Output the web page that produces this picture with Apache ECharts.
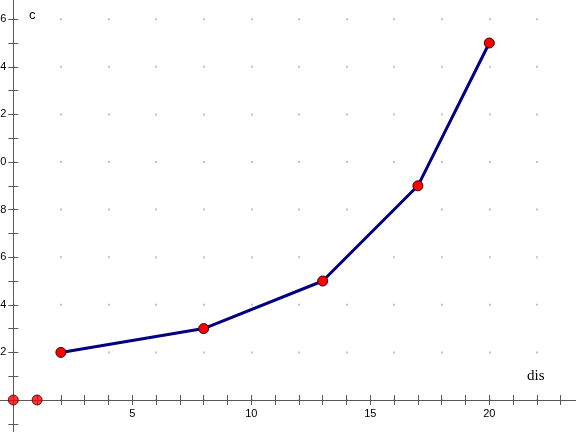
<!DOCTYPE html>
<html>
<head>
<meta charset="utf-8">
<script src="https://cdn.jsdelivr.net/npm/echarts@6/dist/echarts.min.js"></script>
<style>html,body{margin:0;padding:0;background:#fff;}#c{width:576px;height:432px;}</style>
</head>
<body>
<div id="c"></div>
<script>
// Data
var lineX = [2, 8, 13, 17, 20];
var lineY = [2, 3, 5, 9, 15];
var looseX = [0, 1];
var looseY = [0, 0];
var xLabelValues = [5, 10, 15, 20];
var yLabelValues = [2, 4, 6, 8, 10, 12, 14, 16];
var xName = 'dis';
var yName = 'c';

// Layout (pixels per unit and origin position)
var unit = 23.8;
var originX = 13.3;
var originY = 400;
var xMin = -2, xMax = 24, yMin = -2, yMax = 18;

var lineData = lineX.map(function (x, i) { return [x, lineY[i]]; });
var looseData = looseX.map(function (x, i) { return [x, looseY[i]]; });

var axisColor = '#5a5a5a';

function baseAxis(min, max, extra) {
  return Object.assign({
    type: 'value', min: min, max: max, interval: 1,
    axisLine: { show: true, onZero: false, lineStyle: { color: axisColor, width: 1 } },
    axisTick: { show: true, inside: false, length: 5, lineStyle: { color: axisColor, width: 1 } },
    axisLabel: { show: false },
    splitLine: { show: false }
  }, extra);
}

var chart = echarts.init(document.getElementById('c'), null, { renderer: 'canvas' });
chart.setOption({
  animation: false,
  backgroundColor: '#fff',
  grid: {
    left: originX - (0 - xMin) * unit,
    top: originY - yMax * unit,
    width: (xMax - xMin) * unit,
    height: (yMax - yMin) * unit,
    outerBoundsMode: 'none',
    containLabel: false
  },
  xAxis: [
    baseAxis(xMin, xMax, {
      position: 'bottom', offset: -(0 - yMin) * unit,
      axisLabel: {
        show: true, margin: 8, customValues: xLabelValues,
        fontFamily: 'Liberation Sans', fontSize: 11, color: '#000'
      }
    }),
    baseAxis(xMin, xMax, { position: 'top', offset: -(yMax - 0) * unit }),
    {
      type: 'value', min: xMin, max: xMax, interval: 2,
      axisLine: { show: false }, axisTick: { show: false }, axisLabel: { show: false },
      splitLine: { show: true, lineStyle: { color: '#c4c4c4', width: 2, type: [2, 2 * unit - 2], dashOffset: 1 } }
    }
  ],
  yAxis: [
    baseAxis(yMin, yMax, {
      position: 'left', offset: -(0 - xMin) * unit,
      axisLabel: {
        show: true, margin: 7, customValues: yLabelValues,
        fontFamily: 'Liberation Sans', fontSize: 11, color: '#000'
      }
    }),
    baseAxis(yMin, yMax, { position: 'right', offset: -(xMax - 0) * unit })
  ],
  graphic: [
    { type: 'text', left: 29, top: 9, style: { text: yName, font: '13px "Liberation Sans"', fill: '#000' } },
    { type: 'text', left: 527, top: 369, style: { text: xName, font: '15px "Liberation Serif"', fill: '#000' } }
  ],
  series: [
    {
      type: 'line', xAxisIndex: 0, yAxisIndex: 0, data: lineData,
      lineStyle: { color: '#000080', width: 3 },
      symbol: 'circle', symbolSize: 10,
      itemStyle: { color: '#ff0000', borderColor: '#3a0000', borderWidth: 1 },
      z: 5
    },
    {
      type: 'scatter', xAxisIndex: 0, yAxisIndex: 0, data: looseData,
      symbol: 'circle', symbolSize: 10,
      itemStyle: { color: '#ff0000', borderColor: '#3a0000', borderWidth: 1 },
      z: 5
    }
  ]
});
</script>
</body>
</html>
